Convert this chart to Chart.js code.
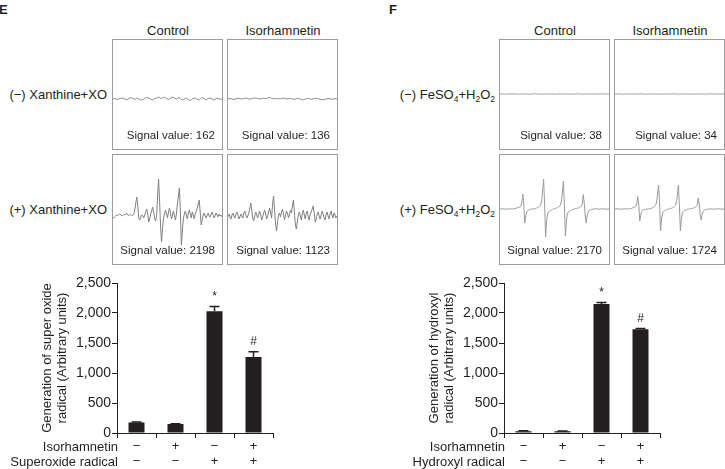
<!DOCTYPE html>
<html>
<head>
<meta charset="utf-8">
<script src="https://cdn.jsdelivr.net/npm/chart.js@4.4.0/dist/chart.umd.min.js"></script>
<style>
  html, body { margin: 0; padding: 0; background: #fff; }
  #page { position: relative; width: 725px; height: 469px; overflow: hidden; }
  .t { position: absolute; font-family: "Liberation Sans", Arial, sans-serif; font-size: 13px; line-height: 13px; color: #231f20; white-space: nowrap; }
  .c { width: 140px; text-align: center; }
  .r { text-align: right; }
  .sv { font-size: 11.5px; line-height: 11.5px; }
  .box { position: absolute; width: 111px; height: 111px; box-sizing: border-box; border: 1px solid #9d9d9d; }
  .box canvas { display: block; }
  .sub { font-size: 8.5px; position: relative; top: 3px; }
  .bar { position: absolute; }
</style>
</head>
<body>
<div id="page">
  <div class="t" style="left:-1px;top:3px;font-weight:bold;">E</div>
  <div class="t" style="left:389px;top:3px;font-weight:bold;">F</div>

  <div class="t c" style="left:98px;top:24px;">Control</div>
  <div class="t c" style="left:213px;top:24px;">Isorhamnetin</div>
  <div class="t c" style="left:485px;top:24px;">Control</div>
  <div class="t c" style="left:600px;top:24px;">Isorhamnetin</div>

  <div class="t r" style="right:618px;top:88px;">(−) Xanthine+XO</div>
  <div class="t r" style="right:618px;top:203px;">(+) Xanthine+XO</div>
  <div class="t r" style="right:230px;top:88px;">(−) FeSO<span class="sub">4</span>+H<span class="sub">2</span>O<span class="sub">2</span></div>
  <div class="t r" style="right:230px;top:203px;">(+) FeSO<span class="sub">4</span>+H<span class="sub">2</span>O<span class="sub">2</span></div>

  <div class="box" style="left:112px;top:39px;"><canvas id="e1" width="109" height="109"></canvas></div>
  <div class="box" style="left:227px;top:39px;"><canvas id="e2" width="109" height="109"></canvas></div>
  <div class="box" style="left:112px;top:154px;"><canvas id="e3" width="109" height="109"></canvas></div>
  <div class="box" style="left:227px;top:154px;"><canvas id="e4" width="109" height="109"></canvas></div>
  <div class="box" style="left:499px;top:39px;"><canvas id="f1" width="109" height="109"></canvas></div>
  <div class="box" style="left:614px;top:39px;"><canvas id="f2" width="109" height="109"></canvas></div>
  <div class="box" style="left:499px;top:154px;"><canvas id="f3" width="109" height="109"></canvas></div>
  <div class="box" style="left:614px;top:154px;"><canvas id="f4" width="109" height="109"></canvas></div>

  <div class="t r sv" style="right:510px;top:130px;">Signal value: 162</div>
  <div class="t r sv" style="right:395px;top:130px;">Signal value: 136</div>
  <div class="t r sv" style="right:510px;top:245px;">Signal value: 2198</div>
  <div class="t r sv" style="right:395px;top:245px;">Signal value: 1123</div>
  <div class="t r sv" style="right:123px;top:130px;">Signal value: 38</div>
  <div class="t r sv" style="right:8px;top:130px;">Signal value: 34</div>
  <div class="t r sv" style="right:123px;top:245px;">Signal value: 2170</div>
  <div class="t r sv" style="right:8px;top:245px;">Signal value: 1724</div>

  <canvas class="bar" id="barE" width="300" height="199" style="left:0px;top:270px;"></canvas>
  <canvas class="bar" id="barF" width="300" height="199" style="left:387px;top:270px;"></canvas>

  <div class="t r" style="right:607px;top:440px;">Isorhamnetin</div>
  <div class="t r" style="right:607px;top:455px;">Superoxide radical</div>
  <div class="t r" style="right:220px;top:440px;">Isorhamnetin</div>
  <div class="t r" style="right:220px;top:455px;">Hydroxyl radical</div>
</div>

<script>
// ESR traces (intensity in px above the baseline)
const eMinusCtrl = [0,0.5,-0.5,0,0.8,1,0,-1,0.5,1.5,0.5,-0.5,1,0,-1,-0.5,0.5,1.5,1,0,-1,0.5,1,2,0.5,1,1.8,0.5,-0.5,1,2,1,0,1.5,0.5,-1,0,1,-0.5,-1.5,0,1,0.5,-1,0,1.5,0.5,-0.8,0.5,1,0,-1,0.5,0.8,-0.3,0];
const eMinusIso = [0,0.5,0,-0.5,0.3,0.8,0.3,0,0.5,1,0.3,-0.3,0.5,0.8,1,0.5,0,0.3,0.8,0.3,1,1.5,0.8,0.3,0.5,0.3,0,0.5,0.8,0.3,0,0.5,0.3,-0.3,0,0.5,0.3,-0.5,-0.8,0,0.5,0.3,-0.3,0.3,0.8,0.3,0,-0.5,-0.8,-0.3,0.3,0.5,0,-0.3,0.3,0];
const ePlusCtrl = [
  -2,-1.5,-0.5,0.5,1,0.5,1.5,2,1,0,0.5,1.5,1,2,2.5,1,0.5,1.5,1,0.5,1,
  2,6,13,19,10,-2,-4,-1,1,0,
  -2,1,4,7,2,-6,-3,2,5,9,4,-2,-5,0,
  20,37,15,-10,-26,-12,-2,3,
  6,2,-2,4,8,3,-3,1,5,0,-4,2,
  12,20,28,5,-29,-15,-3,2,
  5,1,-3,3,6,2,-2,4,1,-3,2,5,8,
  12,16,4,-9,-4,1,3,
  0,-2,1,3,0,-1,2,4,1,-2,0,3,1,-1,2,0,1,-1
];
const ePlusIso = [
  0,2,-1,-3,1,3,0,-2,2,4,1,-3,-1,2,0,-2,3,5,1,-2,0,
  3,8,13,6,-3,-5,0,4,1,-2,
  2,5,1,-4,-1,3,6,2,-3,0,4,8,3,-2,
  12,20,6,-8,-15,-6,1,3,
  -1,4,7,2,-4,0,5,3,-2,1,6,3,
  10,16,4,-9,-13,-5,1,4,
  0,-4,2,6,1,-3,3,5,-1,-4,2,4,7,
  10,3,-6,-3,2,4,0,
  -3,1,5,2,-2,-4,1,4,0,-3,2,5,1,-2,3,1,-2,0
];
const fMinusCtrl = [0,0.2,0,-0.2,0,0,0.2,0,0,-0.2,0,0.2,0,0,0,-0.2,0,0.2,0.2,0,0,-0.2,0,0,0.2,0,0,0,-0.2,0,0.2,0,0,0,0.2,0,-0.2,0,0,0.2,0,0,-0.2,0,0,0.2,0,0,0,-0.2,0,0.2,0,0,0,0];
const fMinusIso = [0,0,0.2,0,-0.2,0,0,0.2,0,0,0,-0.2,0,0.2,0,0,-0.2,0,0,0.2,0,0,0,-0.2,0,0,0.2,0,0,0,0.2,0,-0.2,0,0,0,0.2,0,0,-0.2,0,0,0.2,0,0,0,-0.2,0,0.2,0,0,0,-0.2,0,0,0];
const fPlusCtrl = [
  0,0,0,0.3,0,0,-0.3,0,0,0.3,0,0,0,0,0.3,0.5,0.5,1,1.5,
  1.5,2,3,6,15,5,-14,-7,-3,-1.5,
  -1,-0.5,-0.3,0,0,0,0.3,0.5,1,1.5,2,3,
  4,8,18,30,5,-28,-12,-5,-3,-2,
  -1.5,-1,-0.5,0,0.3,0.5,1,1.5,2,3,
  4,8,17,28,4,-27,-12,-5,-3,-2,
  -1.5,-1,-0.5,-0.3,0,0.3,0.5,0.8,1,1.5,2,3,
  5,14.5,6,-7,-14,-6,-3,-1.5,-1,-0.5,
  -0.3,0,0,0,0.3,0,0,-0.3,0,0,0,0.3,0,0,0,-0.3,0,0
];
const fPlusIso = [
  0,0,0.3,0,0,0,-0.3,0,0,0,0.3,0,0,0,0.3,0.3,0.5,0.8,1.2,
  1.5,2,2.5,5,12.5,4,-12,-6,-2.5,-1.2,
  -0.8,-0.5,-0.3,0,0,0,0.3,0.5,0.8,1.2,1.6,2.5,
  3.5,7,15,24,4,-22,-10,-4,-2.5,-1.5,
  -1.2,-0.8,-0.4,0,0.3,0.5,0.8,1.2,1.6,2.5,
  3.5,7,14,24,3,-22,-10,-4,-2.5,-1.5,
  -1.2,-0.8,-0.4,-0.2,0,0.3,0.5,0.7,0.9,1.2,1.6,2.5,
  4,11,5,-6,-11,-5,-2.5,-1.2,-0.8,-0.4,
  -0.2,0,0,0.3,0,0,0,-0.3,0,0,0,0.3,0,0,0,-0.3,0,0
];

// bar charts
const isoSigns = ["−", "+", "−", "+"];
const radSigns = ["−", "−", "+", "+"];
const eVals = [175, 150, 2030, 1265];
const eErrs = [8, 6, 80, 90];
const eMarks = ["", "", "*", "#"];
const fVals = [30, 30, 2150, 1730];
const fErrs = [6, 5, 25, 12];
const fMarks = ["", "", "*", "#"];
const yTicksMax = 2500;
const yStep = 500;

const ink = '#231f20';
const font = '"Liberation Sans", Arial, sans-serif';

function spectrum(id, values, yMin, yMax, color) {
  new Chart(document.getElementById(id), {
    type: 'line',
    data: {
      labels: values.map((v, i) => i),
      datasets: [{ data: values, borderColor: color, borderWidth: 1, pointRadius: 0, tension: 0 }]
    },
    options: {
      responsive: false,
      animation: false,
      events: [],
      layout: { padding: 0 },
      plugins: { legend: { display: false }, tooltip: { enabled: false } },
      scales: {
        x: { display: false },
        y: { display: false, min: yMin, max: yMax }
      }
    }
  });
}

spectrum('e1', eMinusCtrl, -50, 59, '#8a8a8a');
spectrum('e2', eMinusIso, -50, 59, '#8a8a8a');
spectrum('e3', ePlusCtrl, -48, 61, '#808080');
spectrum('e4', ePlusIso, -48, 61, '#808080');
spectrum('f1', fMinusCtrl, -55, 54, '#a0a0a0');
spectrum('f2', fMinusIso, -55, 54, '#a0a0a0');
spectrum('f3', fPlusCtrl, -55, 54, '#9a9a9a');
spectrum('f4', fPlusIso, -55, 54, '#9a9a9a');

// error bars + significance marks
const errorBars = {
  id: 'errorBars',
  afterDatasetsDraw(chart, args, opts) {
    const {ctx, scales: {y}} = chart;
    const vals = chart.data.datasets[0].data;
    const meta = chart.getDatasetMeta(0);
    ctx.save();
    ctx.strokeStyle = ink;
    ctx.fillStyle = ink;
    ctx.lineWidth = 1.5;
    ctx.font = '12px ' + font;
    ctx.textAlign = 'center';
    ctx.textBaseline = 'bottom';
    meta.data.forEach((bar, i) => {
      const top = y.getPixelForValue(vals[i] + opts.errs[i]);
      const x = bar.x;
      ctx.beginPath();
      ctx.moveTo(x, bar.y);
      ctx.lineTo(x, top);
      ctx.moveTo(x - 5, top);
      ctx.lineTo(x + 5, top);
      ctx.stroke();
      if (opts.marks[i]) ctx.fillText(opts.marks[i], x, top - 4);
    });
    ctx.restore();
  }
};

function barChart(id, vals, errs, marks, title) {
  new Chart(document.getElementById(id), {
    type: 'bar',
    data: {
      labels: isoSigns.map((s, i) => [s, radSigns[i]]),
      datasets: [{ data: vals, backgroundColor: ink, borderWidth: 0, barPercentage: 0.41, categoryPercentage: 1 }]
    },
    options: {
      responsive: false,
      animation: false,
      events: [],
      layout: { padding: { left: 0, right: 27, top: 13, bottom: 0 } },
      plugins: {
        legend: { display: false },
        tooltip: { enabled: false },
        errorBars: { errs: errs, marks: marks }
      },
      scales: {
        x: {
          afterFit(scale) { scale.height = 36; },
          border: { display: true, color: ink, width: 1 },
          grid: { offset: true, drawOnChartArea: false, drawTicks: true, tickLength: 5, color: ink, lineWidth: 1 },
          ticks: { color: ink, padding: 0.5, maxRotation: 0, font: { family: font, size: 13, lineHeight: '15px' } }
        },
        y: {
          min: 0,
          max: yTicksMax,
          afterFit(scale) { scale.width = 117; },
          border: { display: true, color: ink, width: 1 },
          grid: { drawOnChartArea: false, drawTicks: true, tickLength: 5, color: ink, lineWidth: 1 },
          ticks: {
            stepSize: yStep,
            color: ink,
            padding: 1,
            font: { family: font, size: 14 },
            callback: v => v.toLocaleString('en-US')
          },
          title: {
            display: true,
            text: title,
            color: ink,
            padding: { top: 39.5, bottom: 0 },
            font: { family: font, size: 13, lineHeight: '15px' }
          }
        }
      }
    },
    plugins: [errorBars]
  });
}

barChart('barE', eVals, eErrs, eMarks, ["Generation of super oxide", "radical (Arbitrary units)"]);
barChart('barF', fVals, fErrs, fMarks, ["Generation of hydroxyl", "radical (Arbitrary units)"]);
</script>
</body>
</html>
